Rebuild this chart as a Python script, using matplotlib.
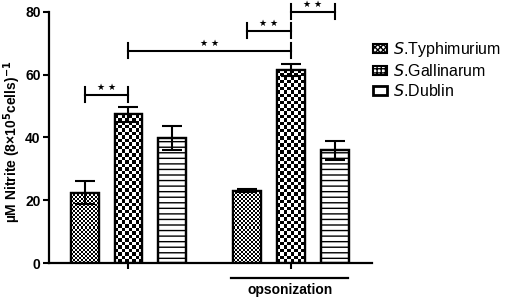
import numpy as np
import matplotlib.pyplot as plt
from matplotlib.patches import Patch

plt.rcParams['font.family'] = ['Liberation Sans', 'DejaVu Sans']

strains = ['Typhimurium', 'Gallinarum', 'Dublin']
control = [22.4, 47.3, 39.9]
control_err = [3.6, 2.4, 3.8]
opson = [23.0, 61.5, 35.9]
opson_err = [0.5, 2.0, 3.0]

pos = [0, 1, 2, 3.72, 4.74, 5.75]
vals = control + opson
errs = control_err + opson_err
cells = [2.0, 3.5, None] * 2   # checker cell size in px, None -> stripes

fig = plt.figure(figsize=(5.10, 2.99), dpi=100)
ax = fig.add_axes([0.096, 0.1204, 0.633, 0.8405])
ax.set_xlim(-0.83, 6.6)
ax.set_ylim(0, 80)

bars = ax.bar(pos, vals, width=0.64, facecolor='white', edgecolor='black',
              linewidth=1.6, zorder=2)


def checker(bar, cell):
    x0, w, h = bar.get_x(), bar.get_width(), bar.get_height()
    p0 = ax.transData.transform((x0, 0))
    p1 = ax.transData.transform((x0 + w, h))
    nx = max(1, int(round((p1[0] - p0[0]) / cell)))
    ny = max(1, int(round((p1[1] - p0[1]) / cell)))
    pat = np.add.outer(np.arange(ny), np.arange(nx)) % 2
    im = ax.imshow(pat, cmap='gray', extent=(x0, x0 + w, 0, h), aspect='auto',
                   interpolation='nearest', zorder=2.5)
    im.set_clip_path(bar)


for b, c in zip(bars, cells):
    if c is None:
        b.set_hatch('---')
    else:
        checker(b, c)

# redraw outlines above the patterns
ax.bar(pos, vals, width=0.64, facecolor='none', edgecolor='black',
       linewidth=1.6, zorder=3)
ax.errorbar(pos, vals, yerr=errs, fmt='none', ecolor='black', elinewidth=1.5,
            capsize=7.5, capthick=1.5, zorder=4)

ax.set_xlim(-0.83, 6.6)
ax.set_ylim(0, 80)
ax.set_yticks([0, 20, 40, 60, 80])
ax.set_xticks([pos[1], pos[4]])
ax.set_xticklabels([])
for s in ['top', 'right']:
    ax.spines[s].set_visible(False)
for s in ['left', 'bottom']:
    ax.spines[s].set_linewidth(1.6)
ax.tick_params(axis='both', width=1.5, length=4.5)
ax.tick_params(axis='y', labelsize=10, pad=1.5)
for t in ax.get_yticklabels():
    t.set_fontweight('bold')
ax.set_ylabel('µM Nitrite (8×10$^\\mathbf{5}$cells)$^\\mathbf{-1}$',
              fontsize=10, fontweight='bold')
ax.yaxis.set_label_coords(-0.08, 0.484)


def bracket(i, j, y):
    x1, x2 = pos[i], pos[j]
    ax.plot([x1, x2], [y, y], color='black', lw=1.5, clip_on=False, zorder=5)
    for x in (x1, x2):
        ax.plot([x, x], [y - 2.4, y + 2.4], color='black', lw=1.5,
                clip_on=False, zorder=5)
    ax.text((x1 + x2) / 2, y + 0.9, '★ ★', ha='center', va='bottom',
            fontsize=6.5, family=['DejaVu Sans'], clip_on=False)


bracket(0, 1, 53.5)
bracket(1, 4, 67.6)
bracket(3, 4, 74.0)
bracket(4, 5, 80.0)

# opsonization label
ax.plot([3.37, 6.05], [-0.058, -0.058], color='black', lw=1.6,
        transform=ax.get_xaxis_transform(), clip_on=False)
ax.text((3.37 + 6.05) / 2, -0.107, 'opsonization', ha='center', va='center',
        fontsize=10, fontweight='bold', transform=ax.get_xaxis_transform())

handles = [Patch(facecolor='white', edgecolor='black', hatch='xxxxxx', lw=1.5),
           Patch(facecolor='white', edgecolor='black', hatch='++++', lw=1.5),
           Patch(facecolor='white', edgecolor='black', lw=2.0)]
labels = ['$\\mathit{S}$.' + s for s in strains]
fig.legend(handles, labels, loc='upper left', bbox_to_anchor=(0.731, 0.865),
           frameon=False, fontsize=11.5, handlelength=0.9, handleheight=0.45,
           handletextpad=0.35, labelspacing=0.25, borderpad=0,
           borderaxespad=0)

fig.savefig('out.png', dpi=100)
